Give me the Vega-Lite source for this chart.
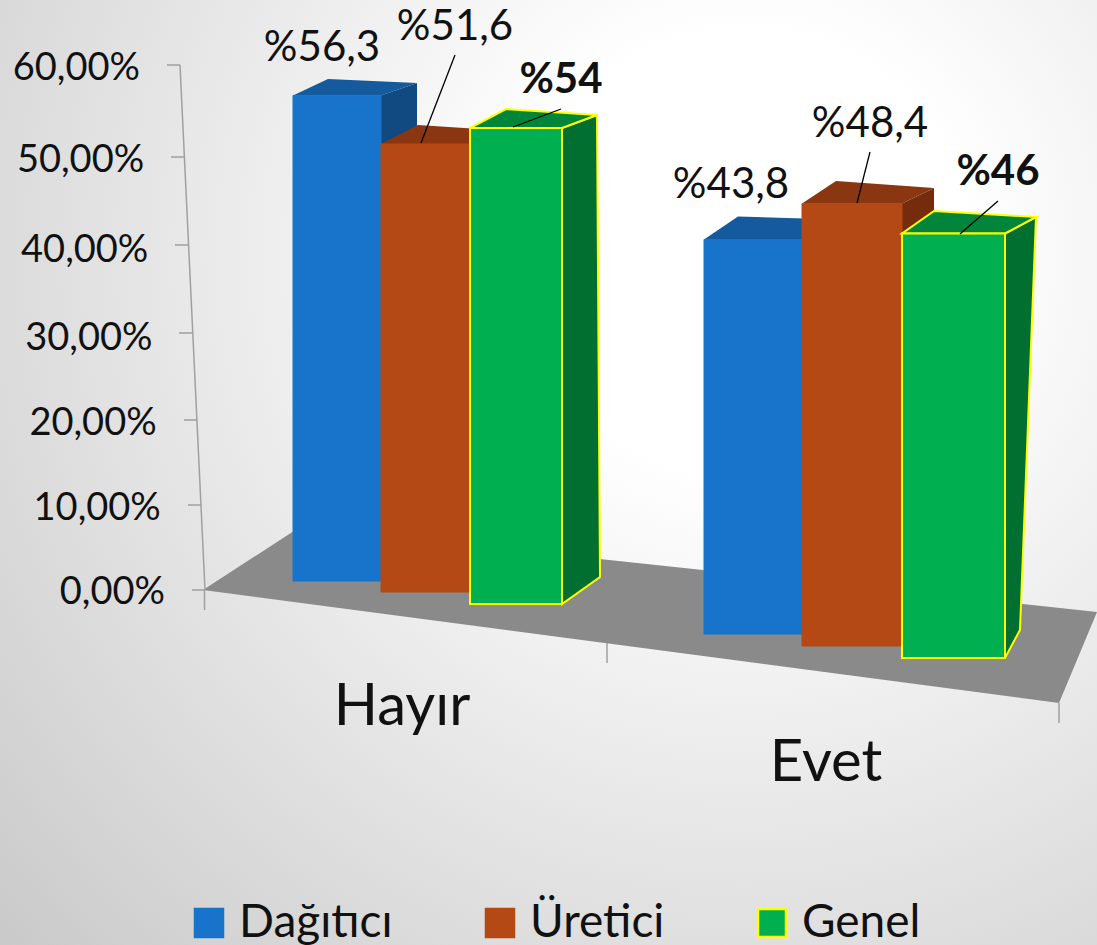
{"$schema":"https://vega.github.io/schema/vega-lite/v6.json","width":1097,"height":945,"padding":0,"autosize":{"type":"none"},"background":"#ffffff",
"view":{"stroke":null,"fill":{"gradient":"radial","x1":0.68,"y1":0.3,"r1":0.0,"x2":0.68,"y2":0.3,"r2":1.0,"stops":[{"offset":0.2,"color":"#ffffff"},{"offset":1,"color":"#c4c4c4"}]}},
"config":{"font":"Lato","text":{"font":"Lato"}},
"data":{"values":[
{"Kategori":"Hayır","Seri":"Dağıtıcı","Deger":56.3,"Etiket":"%56,3"},
{"Kategori":"Hayır","Seri":"Üretici","Deger":51.6,"Etiket":"%51,6"},
{"Kategori":"Hayır","Seri":"Genel","Deger":54,"Etiket":"%54"},
{"Kategori":"Evet","Seri":"Dağıtıcı","Deger":43.8,"Etiket":"%43,8"},
{"Kategori":"Evet","Seri":"Üretici","Deger":48.4,"Etiket":"%48,4"},
{"Kategori":"Evet","Seri":"Genel","Deger":46,"Etiket":"%46"}]},
"encoding":{
"x":{"field":"Kategori","type":"nominal","sort":null,"axis":null,"scale":{"domain":["Hayır","Evet"],"range":[213,1065],"paddingInner":0,"paddingOuter":0}},
"y":{"field":"Deger","type":"quantitative","scale":{"domain":[-40.571,67.429],"nice":false,"zero":false},"axis":null}},
"layer":[
{"transform":[{"filter":"datum.Kategori=='Hayır'&&datum.Seri=='Dağıtıcı'"}],"mark":{"type":"point","filled":true,"opacity":1,"size":4,"fill":"#8a8a8a","stroke":null,"shape":"M-223,0L-126,-63L671,22L633,113Z"},"encoding":{"y":{"datum":0,"type":"quantitative"}}},
{"transform":[{"filter":"datum.Kategori=='Hayır'&&datum.Seri=='Dağıtıcı'"}],"mark":{"type":"point","filled":false,"opacity":1,"size":4,"stroke":"#a0a0a0","strokeWidth":1.5,"shape":"M-246,-525L-221,0M-259,-525L-246,-525M-255,-433L-242,-433M-251,-345L-238,-345M-247,-257L-234,-257M-242,-170L-229,-170M-238,-85L-225,-85M-234,0L-221,0M-221.5,0L-221.5,20M181,53L181,73M633,113L633,133"},"encoding":{"y":{"datum":0,"type":"quantitative"}}},
{"data":{"values":[{"Kategori":"Hayır","Deger":0,"Etiket":"0,00%"},{"Kategori":"Hayır","Deger":10,"Etiket":"10,00%"},{"Kategori":"Hayır","Deger":20,"Etiket":"20,00%"},{"Kategori":"Hayır","Deger":30,"Etiket":"30,00%"},{"Kategori":"Hayır","Deger":40,"Etiket":"40,00%"},{"Kategori":"Hayır","Deger":50,"Etiket":"50,00%"},{"Kategori":"Hayır","Deger":60,"Etiket":"60,00%"}]},"mark":{"type":"text","font":"Lato","fontSize":38,"color":"#111111","align":"right","baseline":"middle","dx":{"expr":"-261-datum.Deger/60*25"},"dy":{"expr":"[3,6.5,9,11.5,11,8.5,4][datum.Deger/10]"}},"encoding":{"text":{"field":"Etiket"}}},

{"transform":[{"filter":"datum.Kategori=='Hayır'&&datum.Seri=='Dağıtıcı'"}],"mark":{"type":"point","filled":true,"opacity":1,"size":4,"fill":"#104A80","stroke":null,"xOffset":-89,"yOffset":-2,"shape":"M44,0L80,-12.5L80,50L44,50Z"}},
{"transform":[{"filter":"datum.Kategori=='Hayır'&&datum.Seri=='Dağıtıcı'"}],"mark":{"type":"point","filled":true,"opacity":1,"size":4,"fill":"#155A9C","stroke":null,"xOffset":-89,"yOffset":-2,"shape":"M-44,0L44,0L80,-12.5L-9,-16.5Z"}},
{"transform":[{"filter":"datum.Kategori=='Hayır'&&datum.Seri=='Dağıtıcı'"}],"mark":{"type":"bar","width":88,"xOffset":-89,"yOffset":-2,"strokeWidth":1},"encoding":{"y2":{"datum":1.03},"fill":{"field":"Seri","type":"nominal","sort":null,"scale":{"domain":["Dağıtıcı","Üretici","Genel"],"range":["#1874CB","#B54915","#00B050"]},"legend":{"title":null,"orient":"none","legendX":186,"legendY":900,"direction":"horizontal","columns":3,"gridAlign":"none","columnPadding":84,"symbolType":"square","symbolSize":784,"symbolStrokeWidth":2.5,"labelFont":"Lato","labelFontSize":46,"labelColor":"#111111","labelLimit":0,"labelOffset":7,"symbolOpacity":1}},"stroke":{"field":"Seri","type":"nominal","sort":null,"scale":{"domain":["Dağıtıcı","Üretici","Genel"],"range":["#1874CB","#B54915","#FFFF00"]},"legend":{"title":null,"orient":"none","legendX":186,"legendY":900,"direction":"horizontal","columns":3,"gridAlign":"none","columnPadding":84,"symbolType":"square","symbolSize":784,"symbolStrokeWidth":2.5,"labelFont":"Lato","labelFontSize":46,"labelColor":"#111111","labelLimit":0,"labelOffset":7,"symbolOpacity":1}}}},

{"transform":[{"filter":"datum.Kategori=='Hayır'&&datum.Seri=='Üretici'"}],"mark":{"type":"point","filled":true,"opacity":1,"size":4,"fill":"#8A3610","stroke":null,"xOffset":-0.5,"yOffset":5.5,"shape":"M-44.5,0L44.5,0L84.5,-13L-7.5,-19Z"}},
{"transform":[{"filter":"datum.Kategori=='Hayır'&&datum.Seri=='Üretici'"}],"mark":{"type":"bar","width":89,"xOffset":-0.5,"yOffset":5.5,"strokeWidth":1},"encoding":{"y2":{"datum":-0.23},"fill":{"field":"Seri","type":"nominal","sort":null},"stroke":{"field":"Seri","type":"nominal","sort":null}}},

{"transform":[{"filter":"datum.Kategori=='Hayır'&&datum.Seri=='Genel'"}],"mark":{"type":"point","filled":true,"opacity":1,"size":4,"fill":"#006F2F","stroke":"#FFFF00","strokeWidth":2,"xOffset":90,"yOffset":10.5,"shape":"M46,0L81,-13L84,449L46,476Z"}},
{"transform":[{"filter":"datum.Kategori=='Hayır'&&datum.Seri=='Genel'"}],"mark":{"type":"point","filled":true,"opacity":1,"size":4,"fill":"#00853A","stroke":"#FFFF00","strokeWidth":2,"xOffset":90,"yOffset":10.5,"shape":"M-46,0L46,0L81,-13L-10,-19Z"}},
{"transform":[{"filter":"datum.Kategori=='Hayır'&&datum.Seri=='Genel'"}],"mark":{"type":"bar","width":92,"xOffset":90,"yOffset":10.5,"strokeWidth":2},"encoding":{"y2":{"datum":-1.6},"fill":{"field":"Seri","type":"nominal","sort":null},"stroke":{"field":"Seri","type":"nominal","sort":null}}},

{"transform":[{"filter":"datum.Kategori=='Evet'&&datum.Seri=='Dağıtıcı'"}],"mark":{"type":"point","filled":true,"opacity":1,"size":4,"fill":"#155A9C","stroke":null,"xOffset":-99,"yOffset":32.75,"shape":"M-49,0L49,0L85,-20L-15,-23Z"}},
{"transform":[{"filter":"datum.Kategori=='Evet'&&datum.Seri=='Dağıtıcı'"}],"mark":{"type":"bar","width":98,"xOffset":-99,"yOffset":32.75,"strokeWidth":1},"encoding":{"y2":{"datum":-5.03},"fill":{"field":"Seri","type":"nominal","sort":null},"stroke":{"field":"Seri","type":"nominal","sort":null}}},

{"transform":[{"filter":"datum.Kategori=='Evet'&&datum.Seri=='Üretici'"}],"mark":{"type":"point","filled":true,"opacity":1,"size":4,"fill":"#752C0C","stroke":null,"xOffset":0,"yOffset":37,"shape":"M50,0L82,-15.5L82,60L50,60Z"}},
{"transform":[{"filter":"datum.Kategori=='Evet'&&datum.Seri=='Üretici'"}],"mark":{"type":"point","filled":true,"opacity":1,"size":4,"fill":"#8A3610","stroke":null,"xOffset":0,"yOffset":37,"shape":"M-50,0L50,0L82,-15.5L-16,-22.5Z"}},
{"transform":[{"filter":"datum.Kategori=='Evet'&&datum.Seri=='Üretici'"}],"mark":{"type":"bar","width":100,"xOffset":0,"yOffset":37,"strokeWidth":1},"encoding":{"y2":{"datum":-6.4},"fill":{"field":"Seri","type":"nominal","sort":null},"stroke":{"field":"Seri","type":"nominal","sort":null}}},

{"transform":[{"filter":"datum.Kategori=='Evet'&&datum.Seri=='Genel'"}],"mark":{"type":"point","filled":true,"opacity":1,"size":4,"fill":"#006F2F","stroke":"#FFFF00","strokeWidth":2,"xOffset":101.5,"yOffset":46,"shape":"M51.5,0L82.5,-16.5L66.5,396.5L51.5,424.5Z"}},
{"transform":[{"filter":"datum.Kategori=='Evet'&&datum.Seri=='Genel'"}],"mark":{"type":"point","filled":true,"opacity":1,"size":4,"fill":"#00853A","stroke":"#FFFF00","strokeWidth":2,"xOffset":101.5,"yOffset":46,"shape":"M-51.5,0L51.5,0L82.5,-16.5L-19.5,-22.5Z"}},
{"transform":[{"filter":"datum.Kategori=='Evet'&&datum.Seri=='Genel'"}],"mark":{"type":"bar","width":103,"xOffset":101.5,"yOffset":46,"strokeWidth":2},"encoding":{"y2":{"datum":-7.77},"fill":{"field":"Seri","type":"nominal","sort":null},"stroke":{"field":"Seri","type":"nominal","sort":null}}},

{"transform":[{"filter":"datum.Kategori=='Hayır'&&datum.Seri=='Üretici'"}],"mark":{"type":"point","filled":false,"opacity":1,"size":4,"stroke":"#000000","strokeWidth":1.3,"xOffset":-0.5,"yOffset":5.5,"shape":"M29.5,-89L-4.5,-1"}},
{"transform":[{"filter":"datum.Kategori=='Hayır'&&datum.Seri=='Genel'"}],"mark":{"type":"point","filled":false,"opacity":1,"size":4,"stroke":"#000000","strokeWidth":1.3,"xOffset":90,"yOffset":10.5,"shape":"M45,-19L-3,-1"}},
{"transform":[{"filter":"datum.Kategori=='Evet'&&datum.Seri=='Üretici'"}],"mark":{"type":"point","filled":false,"opacity":1,"size":4,"stroke":"#000000","strokeWidth":1.3,"xOffset":0,"yOffset":37,"shape":"M18,-51.5L5,-0.5"}},
{"transform":[{"filter":"datum.Kategori=='Evet'&&datum.Seri=='Genel'"}],"mark":{"type":"point","filled":false,"opacity":1,"size":4,"stroke":"#000000","strokeWidth":1.3,"xOffset":101.5,"yOffset":46,"shape":"M44.5,-32.5L6.5,0.5"}},

{"transform":[{"filter":"datum.Kategori=='Hayır'&&datum.Seri=='Dağıtıcı'"}],"mark":{"type":"text","font":"Lato","fontSize":42,"color":"#111111","baseline":"middle","xOffset":-89,"yOffset":-2,"dx":-15,"dy":-47.5},"encoding":{"text":{"field":"Etiket"}}},
{"transform":[{"filter":"datum.Kategori=='Hayır'&&datum.Seri=='Üretici'"}],"mark":{"type":"text","font":"Lato","fontSize":42,"color":"#111111","baseline":"middle","xOffset":-0.5,"yOffset":5.5,"dx":29.5,"dy":-117},"encoding":{"text":{"field":"Etiket"}}},
{"transform":[{"filter":"datum.Kategori=='Hayır'&&datum.Seri=='Genel'"}],"mark":{"type":"text","font":"Lato","fontSize":42,"fontWeight":"bold","color":"#111111","baseline":"middle","xOffset":90,"yOffset":10.5,"dx":45,"dy":-48},"encoding":{"text":{"field":"Etiket"}}},
{"transform":[{"filter":"datum.Kategori=='Evet'&&datum.Seri=='Dağıtıcı'"}],"mark":{"type":"text","font":"Lato","fontSize":42,"color":"#111111","baseline":"middle","xOffset":-99,"yOffset":32.75,"dx":-22,"dy":-55},"encoding":{"text":{"field":"Etiket"}}},
{"transform":[{"filter":"datum.Kategori=='Evet'&&datum.Seri=='Üretici'"}],"mark":{"type":"text","font":"Lato","fontSize":42,"color":"#111111","baseline":"middle","xOffset":0,"yOffset":37,"dx":18,"dy":-79.5},"encoding":{"text":{"field":"Etiket"}}},
{"transform":[{"filter":"datum.Kategori=='Evet'&&datum.Seri=='Genel'"}],"mark":{"type":"text","font":"Lato","fontSize":42,"fontWeight":"bold","color":"#111111","baseline":"middle","xOffset":101.5,"yOffset":46,"dx":44.5,"dy":-61.5},"encoding":{"text":{"field":"Etiket"}}},

{"transform":[{"filter":"datum.Kategori=='Hayır'&&datum.Seri=='Dağıtıcı'"}],"mark":{"type":"text","font":"Lato","fontSize":58,"color":"#111111","baseline":"middle","dx":-24},"encoding":{"y":{"datum":-13.5,"type":"quantitative"},"text":{"field":"Kategori"}}},
{"transform":[{"filter":"datum.Kategori=='Evet'&&datum.Seri=='Dağıtıcı'"}],"mark":{"type":"text","font":"Lato","fontSize":58,"color":"#111111","baseline":"middle","dx":-26},"encoding":{"y":{"datum":-19.9,"type":"quantitative"},"text":{"field":"Kategori"}}}
]}
